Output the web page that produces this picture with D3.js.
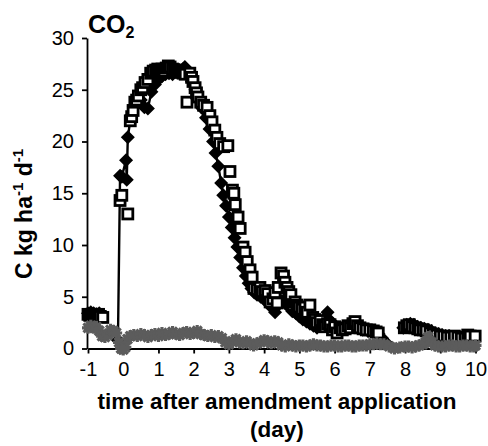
<!DOCTYPE html>
<html>
<head>
<meta charset="utf-8">
<script src="https://cdn.jsdelivr.net/npm/d3@7"></script>
<style>
  body { margin: 0; background: #fff; }
  svg { display: block; font-family: Arial, "Liberation Sans", sans-serif; }
  .axis path, .axis line { stroke: #000; stroke-width: 1.8px; }
  .axis text { font-size: 20px; fill: #000; }
</style>
</head>
<body>
<svg id="chart" width="488" height="446"></svg>
<script>
// x ticks (day) and y ticks
var xTicks = [-1, 0, 1, 2, 3, 4, 5, 6, 7, 8, 9, 10];
var yTicks = [0, 5, 10, 15, 20, 25, 30];

// filled diamonds, [day, C kg/ha/d], null = gap
var diamonds = [
  [-1.00, 3.4], [-0.92, 3.5], [-0.84, 3.4], [-0.76, 3.3], [-0.68, 3.4], [-0.60, 3.2],
  [-0.40, null],
  [-0.15, 0.8], [-0.09, 16.7], [-0.04, 16.6], [0.08, 18.2], [0.10, 16.3], [0.13, 20.4],
  [0.22, 22.5], [0.30, 23.4], [0.40, 23.8], [0.50, 24.0], [0.60, 23.3], [0.70, 23.2],
  [0.80, 24.8], [0.90, 25.5], [1.00, 26.0], [1.10, 26.3], [1.20, 26.5], [1.30, 26.6],
  [1.40, 26.5], [1.50, 26.7], [1.60, 26.9], [1.70, 27.0], [1.75, 27.2], [1.85, 26.5],
  [1.95, 25.8], [2.05, 25.0], [2.15, 24.0], [2.25, 23.2], [2.35, 22.3], [2.45, 21.2],
  [2.55, 20.0], [2.62, 18.9], [2.70, 17.6], [2.78, 16.0], [2.84, 14.8], [2.92, 13.8],
  [3.00, 12.7], [3.08, 11.7], [3.16, 10.7], [3.24, 9.8], [3.32, 8.8], [3.40, 7.8],
  [3.48, 7.0], [3.56, 6.3], [3.64, 5.8], [3.72, 5.4], [3.80, 5.2], [3.90, 5.0],
  [4.00, 4.8], [4.10, 4.4], [4.20, 4.0], [4.31, 3.5], [4.40, 4.2], [4.50, 4.6],
  [4.60, 4.4], [4.70, 4.0], [4.80, 3.6], [4.90, 3.4], [5.00, 3.1], [5.10, 2.8],
  [5.20, 2.6], [5.30, 2.4], [5.40, 2.2], [5.50, 2.0], [5.60, 2.3], [5.70, 2.8],
  [5.80, 3.5], [5.90, 2.6], [6.00, 2.2], [6.10, 2.0], [6.20, 1.8], [6.35, 1.9],
  [6.50, 2.1], [6.65, 2.0], [6.80, 1.8], [6.95, 1.7], [7.10, 1.6], [7.25, 1.4],
  [7.35, 1.0], [7.45, 0.6],
  [7.70, null],
  [7.95, 2.0], [8.05, 2.3], [8.15, 2.4], [8.25, 2.3], [8.35, 2.1], [8.45, 2.0],
  [8.55, 1.9], [8.65, 1.8], [8.75, 1.7], [8.85, 1.5], [8.95, 1.4], [9.05, 1.3],
  [9.15, 1.2], [9.25, 1.2], [9.35, 1.1], [9.45, 1.1], [9.55, 1.0], [9.65, 1.0],
  [9.75, 1.0], [9.85, 1.1]
];

// open squares
var squares = [
  [-1.00, 3.3], [-0.95, 3.2], [-0.90, 3.3], [-0.85, 3.3], [-0.80, 3.2], [-0.75, 3.2],
  [-0.70, 3.3], [-0.65, 3.1], [-0.58, 3.0],
  [-0.09, 14.3], [-0.04, 14.8], [0.13, 13.0], [0.20, 22.0], [0.24, 22.4], [0.28, 23.0],
  [0.33, 23.8], [0.38, 24.0], [0.43, 24.4], [0.50, 25.0], [0.55, 25.2], [0.62, 25.7],
  [0.70, 26.0], [0.78, 26.6], [0.85, 26.8], [0.92, 26.9], [0.98, 27.0], [1.04, 26.9],
  [1.10, 27.0], [1.16, 26.8], [1.22, 27.1], [1.28, 27.3], [1.33, 27.2], [1.40, 27.0],
  [1.46, 26.8], [1.52, 26.9], [1.58, 26.7], [1.64, 26.8], [1.70, 26.6], [1.76, 26.5],
  [1.81, 23.8], [1.89, 26.6], [1.94, 26.2], [1.98, 25.8], [2.04, 25.2], [2.08, 24.7],
  [2.12, 24.3], [2.20, 23.8], [2.28, 23.5], [2.38, 23.3], [2.46, 22.5], [2.52, 21.9],
  [2.60, 21.1], [2.66, 20.4], [2.74, 19.8], [2.85, 19.5], [2.97, 19.6], [3.03, 17.1],
  [3.10, 15.3], [3.14, 15.0], [3.18, 13.9], [3.26, 12.7], [3.32, 11.6], [3.40, 9.8],
  [3.46, 9.3], [3.52, 8.4], [3.60, 7.6], [3.66, 6.9], [3.71, 5.8], [3.80, 5.7],
  [3.88, 5.9], [3.95, 5.5], [4.03, 5.6], [4.10, 5.3], [4.17, 4.5], [4.25, 4.8],
  [4.31, 5.4], [4.37, 4.4], [4.40, 5.9], [4.48, 7.3], [4.55, 7.0], [4.59, 6.4],
  [4.65, 5.9], [4.70, 5.5], [4.76, 5.2], [4.82, 4.2], [4.88, 4.5], [4.93, 4.2],
  [5.00, 4.0], [5.08, 3.8], [5.16, 4.0], [5.22, 3.5], [5.30, 4.2], [5.38, 3.0],
  [5.44, 2.8], [5.50, 2.5], [5.59, 2.7], [5.66, 2.3], [5.73, 2.1], [5.80, 2.4],
  [5.87, 2.3], [5.94, 1.8], [6.00, 2.1], [6.07, 1.5], [6.15, 2.0], [6.22, 1.8],
  [6.30, 1.9], [6.38, 2.2], [6.45, 2.0], [6.52, 2.4], [6.58, 2.6], [6.65, 2.2],
  [6.72, 2.0], [6.81, 1.9], [6.90, 1.8], [7.00, 1.8], [7.10, 1.7], [7.18, 1.6],
  [7.24, 1.5],
  [7.98, 2.0], [8.05, 2.2], [8.12, 2.3], [8.20, 2.1], [8.28, 2.0], [8.36, 1.9],
  [8.43, 1.8], [8.52, 1.8], [8.60, 1.7], [8.71, 1.5], [8.80, 1.4], [8.90, 1.3],
  [9.00, 1.2], [9.10, 1.2], [9.20, 1.1], [9.30, 1.1], [9.40, 1.2], [9.50, 1.1],
  [9.60, 1.0], [9.70, 1.0], [9.78, 1.3], [9.85, 1.2], [9.99, 1.2]
];

// grey crosses
var crosses = [
  [-1.00, 2.0], [-0.92, 2.2], [-0.84, 2.0], [-0.76, 2.1], [-0.68, 1.7], [-0.60, 1.2],
  [-0.52, 1.1], [-0.44, 1.3], [-0.36, 1.8], [-0.28, 1.7], [-0.20, 1.5], [-0.12, 0.6],
  [-0.06, 0.0], [0.00, -0.1], [0.06, 0.1], [0.12, 0.9], [0.20, 1.2], [0.30, 1.3],
  [0.40, 1.2], [0.50, 1.4], [0.60, 1.3], [0.70, 1.1], [0.80, 1.3], [0.90, 1.4],
  [1.00, 1.2], [1.10, 1.5], [1.20, 1.3], [1.30, 1.4], [1.40, 1.6], [1.50, 1.4],
  [1.60, 1.3], [1.70, 1.5], [1.80, 1.6], [1.90, 1.4], [2.00, 1.5], [2.10, 1.7],
  [2.20, 1.4], [2.30, 1.3], [2.40, 1.2], [2.50, 1.3], [2.60, 1.1], [2.70, 1.2],
  [2.80, 1.0], [2.90, 0.6], [3.00, 0.4], [3.10, 0.7], [3.20, 0.9], [3.30, 0.6],
  [3.40, 0.5], [3.50, 0.7], [3.60, 0.5], [3.70, 0.3], [3.80, 0.5], [3.90, 0.6],
  [4.00, 0.8], [4.10, 0.7], [4.20, 0.5], [4.30, 0.7], [4.40, 0.6], [4.50, 0.3],
  [4.60, 0.2], [4.70, 0.4], [4.80, 0.3], [4.90, 0.2], [5.00, 0.3], [5.10, 0.3],
  [5.20, 0.2], [5.30, 0.3], [5.40, 0.4], [5.50, 0.3], [5.60, 0.3], [5.70, 0.2],
  [5.80, 0.2], [5.90, 0.3], [6.00, 0.3], [6.10, 0.2], [6.20, 0.2], [6.30, 0.3],
  [6.40, 0.3], [6.50, 0.2], [6.60, 0.2], [6.70, 0.3], [6.80, 0.3], [6.90, 0.3],
  [7.00, 0.4], [7.10, 0.4], [7.20, 0.5], [7.30, 0.4], [7.40, 0.4], [7.55, 0.2],
  [7.70, 0.0], [7.85, 0.1], [8.00, 0.2], [8.10, 0.2], [8.20, 0.1], [8.30, 0.2],
  [8.40, 0.3], [8.50, 0.4], [8.58, 0.6], [8.66, 1.1], [8.75, 0.6], [8.85, 0.3],
  [8.95, 0.2], [9.05, 0.2], [9.15, 0.2], [9.25, 0.3], [9.35, 0.3], [9.45, 0.2],
  [9.55, 0.2], [9.65, 0.3], [9.75, 0.3], [9.85, 0.2], [9.95, 0.2], [10.0, 0.3]
];

var svg = d3.select('#chart');

var x = d3.scaleLinear().domain([-1, 10]).range([88, 475.5]);
var y = d3.scaleLinear().domain([0, 30]).range([348.5, 38]);

svg.append('g')
    .attr('class', 'axis')
    .attr('transform', 'translate(0,' + y(0) + ')')
    .call(d3.axisBottom(x).tickValues(xTicks).tickFormat(function (d) { return String(d); })
      .tickSize(5).tickSizeOuter(0).tickPadding(8))
    ;

svg.append('g')
    .attr('class', 'axis')
    .attr('transform', 'translate(' + (x(-1) - 1) + ',0)')
    .call(d3.axisLeft(y).tickValues(yTicks).tickSize(5).tickSizeOuter(0).tickPadding(8))
    ;

function lineOf(data) {
  return d3.line()
      .defined(function (d) { return d[1] !== null; })
      .x(function (d) { return x(d[0]); })
      .y(function (d) { return y(d[1]); })(data);
}
function has(d) { return d[1] !== null; }

// black diamond series, line + markers
svg.append('path')
    .attr('d', lineOf(diamonds))
    .attr('fill', 'none')
    .attr('stroke', '#000')
    .attr('stroke-width', 2.4)
    ;

svg.append('g').selectAll('path')
    .data(diamonds.filter(has))
    .enter().append('path')
    .attr('transform', function (d) { return 'translate(' + x(d[0]) + ',' + y(d[1]) + ')'; })
    .attr('d', 'M0,-7L7,0L0,7L-7,0Z')
    .attr('fill', '#000')
    ;

// open squares
svg.append('g').selectAll('rect')
    .data(squares.filter(has))
    .enter().append('rect')
    .attr('x', function (d) { return x(d[0]) - 5; })
    .attr('y', function (d) { return y(d[1]) - 5; })
    .attr('width', 10)
    .attr('height', 10)
    .attr('fill', '#fff')
    .attr('stroke', '#000')
    .attr('stroke-width', 2.8)
    ;

// grey series on top
svg.append('path')
    .attr('d', lineOf(crosses))
    .attr('fill', 'none')
    .attr('stroke', '#5c5c5c')
    .attr('stroke-width', 4.5)
    ;

svg.append('g').selectAll('path')
    .data(crosses)
    .enter().append('path')
    .attr('transform', function (d) { return 'translate(' + x(d[0]) + ',' + y(d[1]) + ')'; })
    .attr('d', 'M-4.5,-4.5L4.5,4.5M-4.5,4.5L4.5,-4.5M0,-6L0,6M-6,0L6,0')
    .attr('fill', 'none')
    .attr('stroke', '#5c5c5c')
    .attr('stroke-width', 3.2)
    ;

// title
var title = svg.append('text')
    .attr('x', 88)
    .attr('y', 33)
    .attr('font-size', 25)
    .attr('font-weight', 'bold')
    ;
title.append('tspan').text('CO');
title.append('tspan').attr('font-size', 16).attr('dy', 5).text('2');

// y label
var ylab = svg.append('text')
    .attr('transform', 'translate(32,214) rotate(-90)')
    .attr('text-anchor', 'middle')
    .attr('font-size', 23)
    .attr('font-weight', 'bold')
    ;
ylab.append('tspan').text('C kg ha');
ylab.append('tspan').attr('font-size', 15).attr('dy', -9).text('-1');
ylab.append('tspan').attr('dy', 9).text(' d');
ylab.append('tspan').attr('font-size', 15).attr('dy', -9).text('-1');

// x label
svg.append('text')
    .attr('x', 277)
    .attr('y', 409)
    .attr('text-anchor', 'middle')
    .attr('font-size', 22.5)
    .attr('font-weight', 'bold')
    .text('time after amendment application');

svg.append('text')
    .attr('x', 277)
    .attr('y', 437)
    .attr('text-anchor', 'middle')
    .attr('font-size', 22.5)
    .attr('font-weight', 'bold')
    .text('(day)');
</script>
</body>
</html>
